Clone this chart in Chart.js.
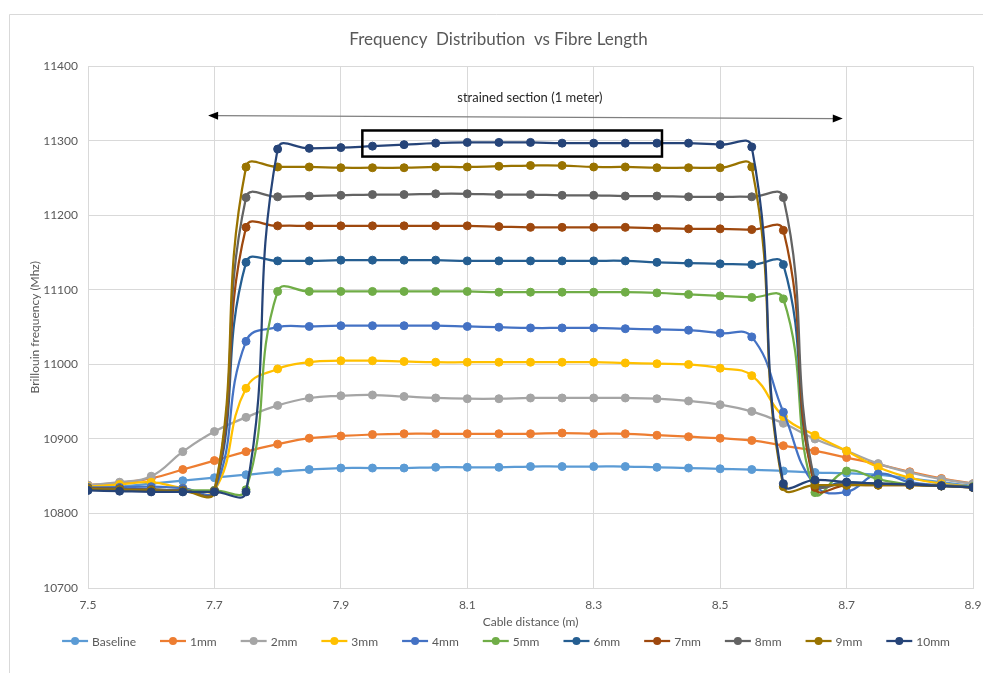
<!DOCTYPE html>
<html>
<head>
<meta charset="utf-8">
<title>Frequency Distribution vs Fibre Length</title>
<script src="https://cdn.jsdelivr.net/npm/chart.js@4.4.0/dist/chart.umd.min.js"></script>
<style>
  html, body { margin: 0; padding: 0; background: #ffffff; }
  #wrap { position: relative; width: 983px; height: 673px; overflow: hidden; }
  canvas { display: block; }
</style>
</head>
<body>
<div id="wrap"><canvas id="chart" width="983" height="673"></canvas></div>
<script>
// Cable positions (m), sampled every 5 cm
const distances = [7.5, 7.55, 7.6, 7.65, 7.7, 7.75, 7.8, 7.85, 7.9, 7.95, 8.0, 8.05, 8.1, 8.15, 8.2,
                   8.25, 8.3, 8.35, 8.4, 8.45, 8.5, 8.55, 8.6, 8.65, 8.7, 8.75, 8.8, 8.85, 8.9];

// Axis tick values
const xTicks = [7.5, 7.7, 7.9, 8.1, 8.3, 8.5, 8.7, 8.9];
const yTicks = [10700, 10800, 10900, 11000, 11100, 11200, 11300, 11400];

// Brillouin frequency (MHz) per strain level
const baseline = [10835, 10836, 10840, 10844, 10848, 10852, 10856, 10859, 10861, 10861, 10861, 10862, 10862, 10862, 10863,
                  10863, 10863, 10863, 10862, 10861, 10860, 10859, 10857, 10855, 10854, 10852, 10847, 10842, 10837];
const mm1 = [10838, 10841, 10847, 10859, 10871, 10883, 10893, 10901, 10904, 10906, 10907, 10907, 10907, 10907, 10907,
             10908, 10907, 10907, 10905, 10903, 10901, 10898, 10891, 10884, 10875, 10866, 10856, 10847, 10840];
const mm2 = [10838, 10842, 10850, 10883, 10910, 10929, 10945, 10955, 10958, 10959, 10957, 10955, 10954, 10954, 10955,
             10955, 10955, 10955, 10954, 10951, 10946, 10937, 10921, 10900, 10884, 10867, 10855, 10846, 10840];
const mm3 = [10836, 10839, 10842, 10834, 10831, 10968, 10994, 11003, 11005, 11005, 11004, 11003, 11003, 11003, 11003,
             11003, 11003, 11002, 11001, 11000, 10995, 10985, 10930, 10905, 10884, 10862, 10848, 10840, 10836];
const mm4 = [10835, 10835, 10836, 10834, 10831, 11031, 11050, 11051, 11052, 11052, 11052, 11052, 11051, 11050, 11049,
             11049, 11049, 11048, 11047, 11046, 11042, 11037, 10936, 10838, 10829, 10853, 10842, 10838, 10836];
const mm5 = [10833, 10832, 10832, 10831, 10831, 10832, 11098, 11098, 11098, 11098, 11098, 11098, 11098, 11097, 11097,
             11097, 11097, 11097, 11096, 11094, 11092, 11090, 11088, 10828, 10857, 10846, 10839, 10837, 10836];
const mm6 = [10834, 10833, 10832, 10831, 10830, 11137, 11139, 11139, 11140, 11140, 11140, 11140, 11139, 11139, 11139,
             11139, 11139, 11139, 11137, 11136, 11135, 11134, 11134, 10843, 10842, 10840, 10839, 10837, 10835];
const mm7 = [10834, 10833, 10832, 10831, 10830, 11184, 11186, 11186, 11186, 11186, 11186, 11186, 11186, 11185, 11184,
             11184, 11184, 11184, 11183, 11182, 11182, 11181, 11180, 10835, 10838, 10838, 10838, 10837, 10835];
const mm8 = [10834, 10833, 10832, 10831, 10830, 11224, 11225, 11226, 11227, 11228, 11228, 11229, 11229, 11228, 11228,
             11227, 11227, 11226, 11226, 11225, 11225, 11225, 11224, 10842, 10841, 10840, 10839, 10837, 10835];
const mm9 = [10833, 10832, 10831, 10830, 10829, 11265, 11265, 11265, 11264, 11264, 11264, 11265, 11265, 11266, 11267,
             11267, 11265, 11265, 11264, 11264, 11264, 11265, 10836, 10838, 10838, 10838, 10838, 10837, 10835];
const mm10 = [10831, 10830, 10829, 10829, 10829, 10829, 11289, 11290, 11291, 11293, 11295, 11297, 11298, 11298, 11298,
              11297, 11297, 11297, 11297, 11297, 11295, 11292, 10840, 10845, 10842, 10840, 10839, 10837, 10835];

const seriesNames = ['Baseline', '1mm', '2mm', '3mm', '4mm', '5mm', '6mm', '7mm', '8mm', '9mm', '10mm'];
const seriesValues = [baseline, mm1, mm2, mm3, mm4, mm5, mm6, mm7, mm8, mm9, mm10];
const seriesColors = ['#5B9BD5', '#ED7D31', '#A5A5A5', '#FFC000', '#4472C4', '#70AD47',
                      '#255E91', '#9E480E', '#636363', '#997300', '#264478'];

// Strained-section markers (in data units)
const strainedSpan = { from: [7.69, 11334], to: [8.694, 11330] };
const strainedLabel = { text: 'strained section (1 meter)', at: [8.199, 11358] };
const plateauBox = { x0: 7.934, x1: 8.408, y0: 11314, y1: 11279 };

const FONT = 'Lato, "Open Sans", sans-serif';
const TEXT = '#595959';
const GRID = '#D9D9D9';

// Thin frame around the chart
const framePlugin = {
  id: 'frame',
  beforeDraw(chart) {
    const ctx = chart.ctx;
    ctx.save();
    ctx.fillStyle = '#ffffff';
    ctx.fillRect(0, 0, chart.width, chart.height);
    ctx.strokeStyle = '#D9D9D9';
    ctx.lineWidth = 1;
    ctx.beginPath();
    ctx.moveTo(9.5, chart.height);
    ctx.lineTo(9.5, 14.5);
    ctx.lineTo(chart.width, 14.5);
    ctx.stroke();
    ctx.restore();
  }
};

// Double-headed arrow, its caption and the plateau box
const strainPlugin = {
  id: 'strainMarks',
  afterDatasetsDraw(chart) {
    const ctx = chart.ctx;
    const sx = chart.scales.x, sy = chart.scales.y;
    const ax = sx.getPixelForValue(strainedSpan.from[0]), ay = sy.getPixelForValue(strainedSpan.from[1]);
    const bx = sx.getPixelForValue(strainedSpan.to[0]), by = sy.getPixelForValue(strainedSpan.to[1]);
    ctx.save();
    ctx.strokeStyle = '#7F7F7F';
    ctx.lineWidth = 1.25;
    ctx.beginPath();
    ctx.moveTo(ax + 8, ay);
    ctx.lineTo(bx - 8, by);
    ctx.stroke();
    const ang = Math.atan2(by - ay, bx - ax);
    const head = (x, y, dir) => {
      ctx.save();
      ctx.translate(x, y);
      ctx.rotate(ang + (dir < 0 ? Math.PI : 0));
      ctx.fillStyle = '#000000';
      ctx.beginPath();
      ctx.moveTo(0, 0);
      ctx.lineTo(-10, -4);
      ctx.lineTo(-10, 4);
      ctx.closePath();
      ctx.fill();
      ctx.restore();
    };
    head(bx, by, 1);
    head(ax, ay, -1);

    ctx.fillStyle = '#262626';
    ctx.font = '13px ' + FONT;
    ctx.textAlign = 'center';
    ctx.textBaseline = 'middle';
    ctx.fillText(strainedLabel.text, sx.getPixelForValue(strainedLabel.at[0]), sy.getPixelForValue(strainedLabel.at[1]));

    const x0 = sx.getPixelForValue(plateauBox.x0), x1 = sx.getPixelForValue(plateauBox.x1);
    const y0 = sy.getPixelForValue(plateauBox.y0), y1 = sy.getPixelForValue(plateauBox.y1);
    ctx.strokeStyle = '#000000';
    ctx.lineWidth = 2.5;
    ctx.strokeRect(x0, y0, x1 - x0, y1 - y0);
    ctx.restore();
  }
};

// Series key along the bottom: line-and-marker swatch followed by the name
const keyPlugin = {
  id: 'seriesKey',
  afterDraw(chart) {
    const ctx = chart.ctx;
    const sets = chart.data.datasets;
    ctx.save();
    ctx.font = '12px ' + FONT;
    const swatch = 26, gapText = 4, gapItem = 24;
    const widths = sets.map(d => swatch + gapText + ctx.measureText(d.label).width);
    const total = widths.reduce((a, b) => a + b, 0) + gapItem * (sets.length - 1);
    const centre = 506;
    let x = centre - total / 2;
    const y = chart.height - 32;
    sets.forEach((d, i) => {
      ctx.strokeStyle = d.borderColor;
      ctx.lineWidth = 2.25;
      ctx.beginPath();
      ctx.moveTo(x, y);
      ctx.lineTo(x + swatch, y);
      ctx.stroke();
      ctx.fillStyle = d.borderColor;
      ctx.beginPath();
      ctx.arc(x + swatch / 2, y, 4, 0, Math.PI * 2);
      ctx.fill();
      ctx.fillStyle = TEXT;
      ctx.textAlign = 'left';
      ctx.textBaseline = 'middle';
      ctx.fillText(d.label, x + swatch + gapText, y + 1);
      x += widths[i] + gapItem;
    });
    ctx.restore();
  }
};

const datasets = seriesNames.map((name, i) => ({
  label: name,
  data: distances.map((d, j) => ({ x: d, y: seriesValues[i][j] })),
  borderColor: seriesColors[i],
  backgroundColor: seriesColors[i],
  pointBackgroundColor: seriesColors[i],
  pointBorderColor: seriesColors[i],
  borderWidth: 2.25,
  pointRadius: 4,
  pointBorderWidth: 1,
  tension: 0.45,
  fill: false,
  order: seriesNames.length - i
}));

new Chart(document.getElementById('chart'), {
  type: 'line',
  data: { datasets },
  plugins: [framePlugin, strainPlugin, keyPlugin],
  options: {
    responsive: false,
    animation: false,
    devicePixelRatio: 1,
    layout: { padding: { left: 24, right: 10, top: 14, bottom: 41 } },
    plugins: {
      legend: { display: false },
      tooltip: { enabled: false },
      title: {
        display: true,
        text: 'Frequency  Distribution  vs Fibre Length',
        color: TEXT,
        font: { family: FONT, size: 17, weight: 'normal' },
        padding: { top: 15, bottom: 17 }
      }
    },
    scales: {
      x: {
        type: 'linear',
        min: 7.5,
        max: 8.9,
        afterBuildTicks: s => { s.ticks = xTicks.map(v => ({ value: v })); },
        afterFit: s => { s.height = 44; s.paddingRight = 0; s.paddingLeft = 0; },
        grid: { color: GRID, drawTicks: false },
        border: { color: GRID },
        ticks: { color: TEXT, font: { family: FONT, size: 12 }, padding: 10, callback: v => v.toFixed(1) },
        title: { display: true, text: 'Cable distance (m)', color: TEXT, font: { family: FONT, size: 12 }, padding: { top: 4, bottom: 3 } }
      },
      y: {
        min: 10700,
        max: 11400,
        afterBuildTicks: s => { s.ticks = yTicks.map(v => ({ value: v })); },
        afterFit: s => { s.width = 64; },
        grid: { color: GRID, drawTicks: false },
        border: { color: GRID },
        ticks: { color: TEXT, font: { family: FONT, size: 12 }, padding: 10, callback: v => String(v) },
        title: { display: true, text: 'Brillouin frequency (Mhz)', color: TEXT, font: { family: FONT, size: 12 }, padding: { top: 4, bottom: 4 } }
      }
    }
  }
});
</script>
</body>
</html>
